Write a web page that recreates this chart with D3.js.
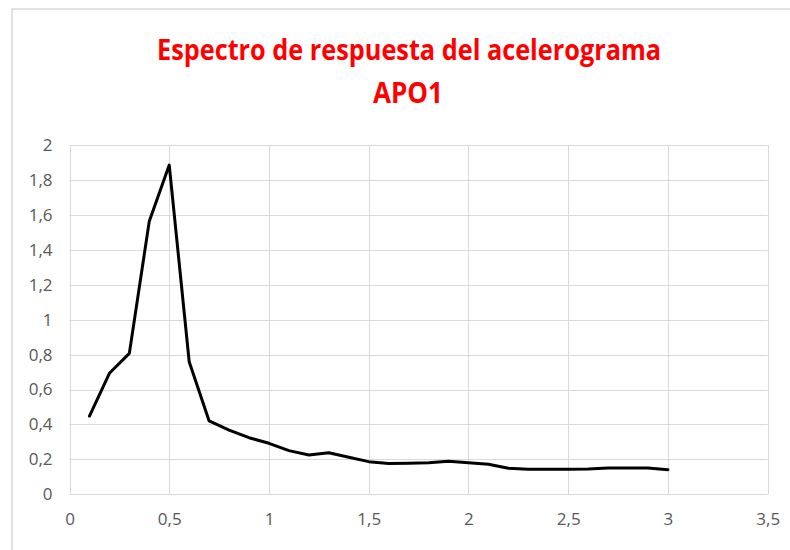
<!DOCTYPE html>
<html>
<head>
<meta charset="utf-8">
<script src="https://cdn.jsdelivr.net/npm/d3@7/dist/d3.min.js"></script>
<style>
    body { margin: 0; background: #fff; }
    svg { display: block; }
</style>
</head>
<body>
<svg id="chart" width="790" height="550"></svg>
<script>
// periodo (s) y aceleracion espectral
var periods = [0.1, 0.2, 0.3, 0.4, 0.5, 0.6, 0.7, 0.8, 0.9, 1.0,
    1.1, 1.2, 1.3, 1.4, 1.5, 1.6, 1.7, 1.8, 1.9, 2.0,
    2.1, 2.2, 2.3, 2.4, 2.5, 2.6, 2.7, 2.8, 2.9, 3.0];
var accel = [0.448, 0.693, 0.807, 1.564, 1.885, 0.759, 0.420, 0.368, 0.324, 0.292,
    0.250, 0.225, 0.238, 0.212, 0.187, 0.177, 0.178, 0.180, 0.189, 0.180,
    0.172, 0.149, 0.143, 0.143, 0.143, 0.145, 0.151, 0.151, 0.151, 0.141];
var xTicks = [0, 0.5, 1, 1.5, 2, 2.5, 3, 3.5];
var yTicks = [0, 0.2, 0.4, 0.6, 0.8, 1, 1.2, 1.4, 1.6, 1.8, 2];
var titleLines = ["Espectro de respuesta del acelerograma", "APO1"];

var svg = d3.select("#chart");

var plotLeft = 69.5, plotRight = 767.7, plotTop = 145, plotBottom = 494.3;

var x = d3.scaleLinear().domain([0, 3.5]).range([plotLeft, plotRight]);
var y = d3.scaleLinear().domain([0, 2]).range([plotBottom, plotTop]);

var comma = function (d) { return String(d).replace(".", ","); };

// chart frame
svg.append("rect")
    .attr("x", 12).attr("y", 9)
    .attr("width", 800).attr("height", 560)
    .attr("fill", "#fff")
    .attr("stroke", "#d9d9d9")
    .attr("stroke-width", 1.5);

// title
svg.append("text")
    .attr("x", 409).attr("y", 60)
    .attr("text-anchor", "middle")
    .attr("textLength", 504)
    .attr("lengthAdjust", "spacingAndGlyphs")
    .style("font-family", "'Liberation Sans Narrow', 'Open Sans', sans-serif")
    .style("font-weight", "bold")
    .style("font-size", "28px")
    .attr("fill", "#ff0000")
    .text(titleLines[0]);

svg.append("text")
    .attr("x", 408).attr("y", 103)
    .attr("text-anchor", "middle")
    .attr("textLength", 70)
    .attr("lengthAdjust", "spacingAndGlyphs")
    .style("font-family", "'Liberation Sans Narrow', 'Open Sans', sans-serif")
    .style("font-weight", "bold")
    .style("font-size", "28px")
    .attr("fill", "#ff0000")
    .text(titleLines[1]);

// grid
var grid = svg.append("g").attr("stroke", "#d9d9d9").attr("stroke-width", 1);

grid.selectAll("line.h")
    .data(yTicks)
    .enter().append("line")
    .attr("class", "h")
    .attr("x1", plotLeft).attr("x2", plotRight)
    .attr("y1", function (d) { return Math.round(y(d)) + 0.5; })
    .attr("y2", function (d) { return Math.round(y(d)) + 0.5; });

grid.selectAll("line.v")
    .data(xTicks)
    .enter().append("line")
    .attr("class", "v")
    .attr("y1", plotTop).attr("y2", plotBottom)
    .attr("x1", function (d) { return Math.round(x(d)) + 0.5; })
    .attr("x2", function (d) { return Math.round(x(d)) + 0.5; });

// axes labels
var yAxis = d3.axisLeft(y).tickValues(yTicks).tickFormat(comma).tickSize(0).tickPadding(17);
var xAxis = d3.axisBottom(x).tickValues(xTicks).tickFormat(comma).tickSize(0).tickPadding(19);

var gy = svg.append("g").attr("transform", "translate(" + plotLeft + ",0)").call(yAxis);
var gx = svg.append("g").attr("transform", "translate(0," + plotBottom + ")").call(xAxis);

[gx, gy].forEach(function (g) {
    g.select(".domain").remove();
    g.selectAll("text")
        .style("font-family", "'Open Sans', 'Liberation Sans', sans-serif")
        .style("font-size", "17px")
        .attr("fill", "#595959");
});

// series
var line = d3.line()
    .x(function (d, i) { return x(periods[i]); })
    .y(function (d) { return y(d); });

svg.append("path")
    .datum(accel)
    .attr("d", line)
    .attr("fill", "none")
    .attr("stroke", "#000")
    .attr("stroke-width", 3)
    .attr("stroke-linejoin", "round")
    .attr("stroke-linecap", "round");
</script>
</body>
</html>
